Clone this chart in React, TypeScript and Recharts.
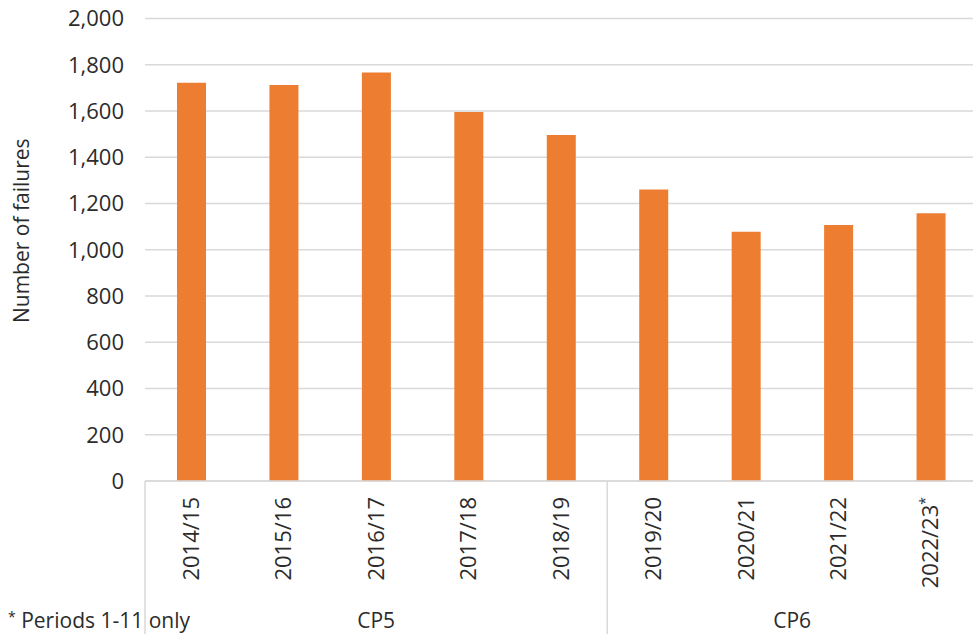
import { BarChart, Bar, XAxis, YAxis, CartesianGrid } from "recharts"

const years = [
  "2014/15",
  "2015/16",
  "2016/17",
  "2017/18",
  "2018/19",
  "2019/20",
  "2020/21",
  "2021/22",
  "2022/23*",
]
const failures = [1722, 1712, 1767, 1596, 1496, 1261, 1078, 1107, 1158]
const periods = ["CP5", "CP5", "CP5", "CP5", "CP5", "CP6", "CP6", "CP6", "CP6"]
const yTicks = [0, 200, 400, 600, 800, 1000, 1200, 1400, 1600, 1800, 2000]
const footnote = "Periods 1-11 only"

const data = years.map((year, i) => ({
  year,
  failures: failures[i],
  period: periods[i],
}))

const FONT = "'Open Sans', sans-serif"
const TEXT = "#2b2b2b"
const GRID = "#d9d9d9"

// years flagged with "*" get a small raised asterisk
function starred(label: string) {
  if (!label.endsWith("*")) return label
  return (
    <>
      {label.slice(0, -1)}
      <tspan fontSize={14} dy="-0.6em">
        *
      </tspan>
    </>
  )
}

function YearTick(props: any) {
  const { x, y, payload, index } = props
  const half = payload.offset
  const period = periods[index]
  const groupStart = index === 0 || periods[index - 1] !== period
  const count = periods.filter((p) => p === period).length

  return (
    <g>
      {index === 0 && (
        <text
          x={x - half - 137}
          y={y + 147}
          fontFamily={FONT}
          fontSize={21}
          fill={TEXT}
        >
          <tspan fontSize={14} dy="-0.45em">
            *
          </tspan>
          <tspan dy="0.3em"> {footnote}</tspan>
        </text>
      )}
      <text
        transform={`translate(${x},${y + 16}) rotate(-90)`}
        textAnchor="end"
        dy="0.35em"
        fontFamily={FONT}
        fontSize={22}
        fill={TEXT}
      >
        {starred(String(payload.value))}
      </text>
      {groupStart && (
        <>
          <line
            x1={x - half}
            x2={x - half}
            y1={y}
            y2={y + 160}
            stroke={GRID}
            strokeWidth={1.5}
          />
          <text
            x={x - half + count * half}
            y={y + 147}
            textAnchor="middle"
            fontFamily={FONT}
            fontSize={21}
            fill={TEXT}
          >
            {period}
          </text>
        </>
      )}
    </g>
  )
}

function AxisTitle(props: any) {
  const { viewBox } = props
  const cx = viewBox.x + 22
  const cy = viewBox.y + viewBox.height / 2 - 19
  return (
    <text
      transform={`translate(${cx},${cy}) rotate(-90)`}
      textAnchor="middle"
      dy="0.35em"
      fontFamily={FONT}
      fontSize={21}
      fill={TEXT}
    >
      Number of failures
    </text>
  )
}

export default function App() {
  return (
    <div
      style={{
        position: "absolute",
        left: 0,
        top: 0,
        width: 973,
        height: 634,
        overflow: "hidden",
        background: "#fff",
      }}
    >
      <BarChart
        width={977}
        height={634}
        data={data}
        margin={{ top: 18.5, right: 0, bottom: 0, left: 0 }}
      >
        <CartesianGrid vertical={false} stroke={GRID} strokeWidth={1.5} />
        <XAxis
          dataKey="year"
          interval={0}
          height={153}
          tickLine={false}
          tickSize={0}
          tickMargin={0}
          axisLine={{ stroke: GRID, strokeWidth: 1.5 }}
          tick={<YearTick />}
        />
        <YAxis
          width={145}
          domain={[0, 2000]}
          ticks={yTicks}
          interval={0}
          axisLine={false}
          tickLine={false}
          tickSize={0}
          tickMargin={21}
          tickFormatter={(v: number) => v.toLocaleString("en-GB")}
          tick={{ fontFamily: FONT, fontSize: 22, fill: TEXT }}
          label={<AxisTitle />}
        />
        <Bar
          dataKey="failures"
          fill="#ED7D31"
          barSize={29}
          isAnimationActive={false}
        />
      </BarChart>
    </div>
  )
}
